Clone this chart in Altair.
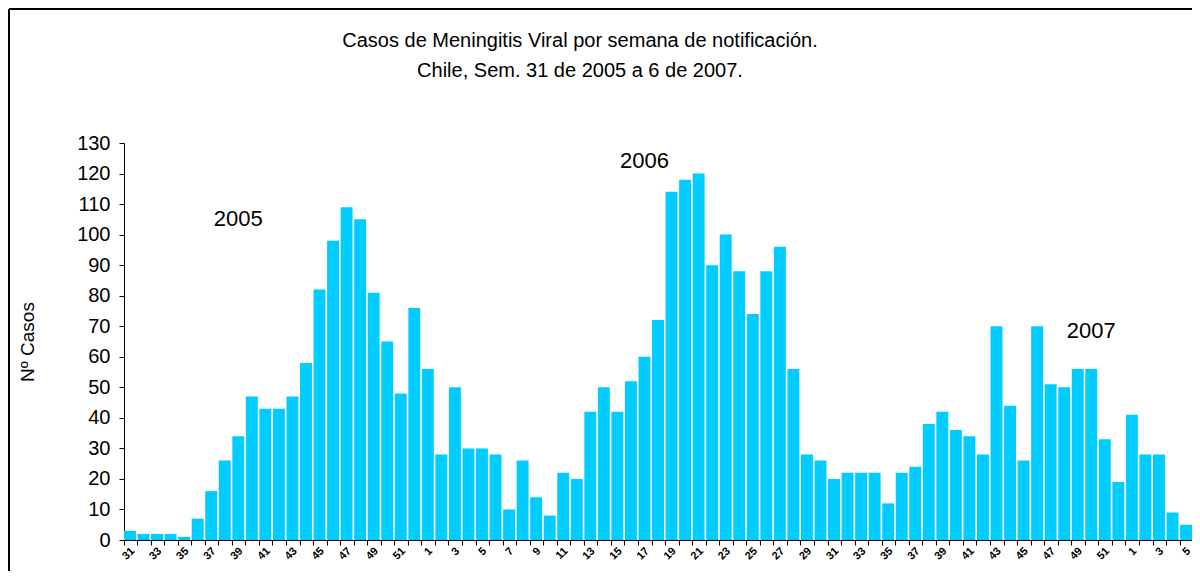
import altair as alt
import pandas as pd

# --- data -------------------------------------------------------------
years = [2005] * 22 + [2006] * 52 + [2007] * 5
weeks = [31, 32, 33, 34, 35, 36, 37, 38, 39, 40, 41, 42, 43, 44, 45, 46, 47, 48, 49, 50, 51, 52,
         1, 2, 3, 4, 5, 6, 7, 8, 9, 10, 11, 12, 13, 14, 15, 16, 17, 18, 19, 20, 21, 22, 23, 24, 25, 26,
         27, 28, 29, 30, 31, 32, 33, 34, 35, 36, 37, 38, 39, 40, 41, 42, 43, 44, 45, 46, 47, 48, 49, 50,
         51, 52,
         1, 2, 3, 4, 5]
cases = [3, 2, 2, 2, 1, 7, 16, 26, 34, 47,
         43, 43, 47, 58, 82, 98, 109, 105, 81, 65,
         48, 76, 56, 28, 50, 30, 30, 28, 10, 26,
         14, 8, 22, 20, 42, 50, 42, 52, 60, 72,
         114, 118, 120, 90, 100, 88, 74, 88, 96, 56,
         28, 26, 20, 22, 22, 22, 12, 22, 24, 38,
         42, 36, 34, 28, 70, 44, 26, 70, 51, 50,
         56, 56, 33, 19, 41, 28, 28, 9, 5]

ann_text = ["2005", "2006", "2007"]
ann_key = ["2005-39", "2006-17", "2006-50"]
ann_value = [105, 124, 68.6]

title_lines = ["Casos de Meningitis Viral por semana de notificación.",
               "Chile, Sem. 31 de 2005 a  6 de 2007."]
y_title = "Nº Casos"
y_ticks = [0, 10, 20, 30, 40, 50, 60, 70, 80, 90, 100, 110, 120, 130]

keys = [f"{y}-{w:02d}" for y, w in zip(years, weeks)]
df = pd.DataFrame({"key": keys, "week": weeks, "cases": cases})
ann_df = pd.DataFrame({"key": ann_key, "value": ann_value, "label": ann_text})

W, H = 1068, 397
FONT = "Liberation Sans"

x_axis = alt.Axis(
    title=None,
    bandPosition=0,
    labelExpr="toNumber(split(datum.label, '-')[1]) % 2 == 1 ? '' + toNumber(split(datum.label, '-')[1]) : ''",
    labelAngle=-45,
    labelAlign="right",
    labelBaseline="middle",
    labelFontSize=11,
    labelFontWeight="bold",
    labelOffset=3,
    labelPadding=4,
    labelOverlap=False,
    labelColor="black",
    tickSize=5,
    tickColor="black",
    domainColor="black",
)

x_enc = alt.X(
    "key:N",
    sort="ascending",
    scale=alt.Scale(paddingInner=0.12, paddingOuter=0.0),
    axis=x_axis,
)

y_enc = alt.Y(
    "cases:Q",
    scale=alt.Scale(domain=[0, 130], nice=False),
    axis=alt.Axis(
        title=y_title,
        values=y_ticks,
        tickCount=14,
        grid=False,
        labelFontSize=20,
        labelPadding=9,
        labelOverlap=False,
        labelBound=False,
        labelFlush=False,
        labelColor="black",
        tickSize=5,
        tickColor="black",
        domainColor="black",
        titleFontSize=19,
        titleFontWeight="normal",
        titleColor="black",
        titleX=-97,
        titleY=H / 2,
        titleAngle=-90,
        titleAlign="center",
        titleBaseline="middle",
    ),
)

bars = alt.Chart(df).mark_bar(color="#00CCFF").encode(x=x_enc, y=y_enc)

ann = alt.Chart(ann_df).mark_text(fontSize=22, font=FONT, color="black", baseline="middle").encode(
    x=alt.X("key:N", sort="ascending", axis=x_axis),
    y=alt.Y("value:Q", axis=None),
    text="label:N",
)

frame_df = pd.DataFrame({"a": [0]})
left_border = alt.Chart(frame_df).mark_rule(color="black", strokeWidth=2).encode(
    x=alt.value(-115), y=alt.value(-134), y2=alt.value(H + 40)
)
top_border = alt.Chart(frame_df).mark_rule(color="black", strokeWidth=2).encode(
    x=alt.value(-115), x2=alt.value(W + 20), y=alt.value(-134)
)
title1 = alt.Chart(frame_df).mark_text(
    fontSize=20, font=FONT, color="black", align="center", baseline="alphabetic"
).encode(x=alt.value(456), y=alt.value(-96), text=alt.value(title_lines[0]))
title2 = alt.Chart(frame_df).mark_text(
    fontSize=20, font=FONT, color="black", align="center", baseline="alphabetic"
).encode(x=alt.value(456), y=alt.value(-66), text=alt.value(title_lines[1]))

chart = (
    alt.layer(bars, ann, left_border, top_border, title1, title2)
    .resolve_axis(y="independent")
    .properties(
        width=W,
        height=H,
        autosize=alt.AutoSizeParams(type="none"),
        padding={"left": 116, "top": 135, "right": 0, "bottom": 31},
    )
    .configure(font=FONT)
    .configure_view(stroke=None)
    .configure_axis(labelFont=FONT, titleFont=FONT)
)

chart.save("out.html", embed_options={"renderer": "svg", "actions": False})
